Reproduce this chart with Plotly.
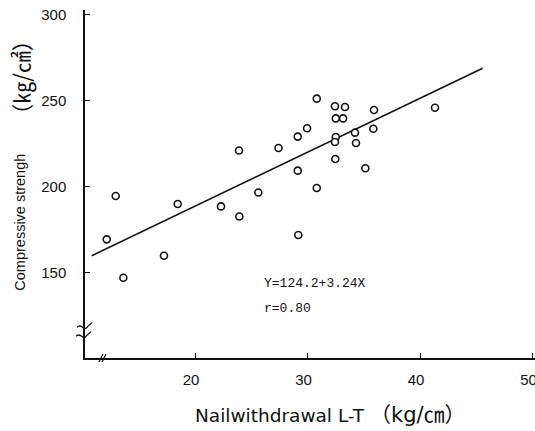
import plotly.graph_objects as go

# Data
nail_lt = [12.15, 12.95, 13.63, 17.24, 18.46, 22.31, 23.91, 23.94, 25.63, 27.42,
           29.13, 29.13, 29.18, 29.96, 30.82, 30.82, 32.44, 32.51, 33.16, 33.33,
           32.51, 32.44, 32.47, 34.22, 34.31, 35.14, 35.91, 35.85, 41.33]
comp_strength = [169.4, 194.6, 147.1, 159.9, 190.0, 188.6, 221.1, 182.7, 196.7, 222.6,
                 229.2, 209.4, 171.9, 234.1, 251.3, 199.3, 246.9, 239.8, 239.8, 246.4,
                 229.0, 226.1, 216.2, 231.5, 225.5, 210.8, 244.7, 233.8, 246.0]
fit_x = [10.82, 45.57]
fit_y = [159.9, 269.0]
x_ticks = [20, 30, 40, 50]
y_ticks = [150, 200, 250, 300]
eq_text = "Y=124.2+3.24X"
r_text = "r=0.80"
y_title = "Compressive strengh"
y_unit = "（㎏/㎠）"
x_title = "Nailwithdrawal L-T "
x_unit = "（kg/㎝）"

ink = "#111111"
fig = go.Figure()
fig.add_trace(go.Scatter(x=fit_x, y=fit_y, mode="lines",
                         line=dict(color=ink, width=1.6), hoverinfo="skip"))
fig.add_trace(go.Scatter(x=nail_lt, y=comp_strength, mode="markers",
                         marker=dict(symbol="circle", size=7, color="white",
                                     line=dict(color=ink, width=1.6))))

tickfont = dict(family="Liberation Sans", size=15, color=ink)
fig.update_xaxes(range=[10.22, 50.22], tickvals=x_ticks, ticks="inside", ticklen=5,
                 tickcolor=ink, showline=True, linecolor=ink, linewidth=1.5,
                 showgrid=False, zeroline=False, tickfont=tickfont,
                 ticklabelstandoff=7, ticklabelshift=-4,
                 ticklabeloverflow="allow", automargin=False)
fig.update_yaxes(range=[100.35, 302.9], tickvals=y_ticks, ticks="inside", ticklen=5,
                 tickcolor=ink, showline=True, linecolor=ink, linewidth=1.5,
                 showgrid=False, zeroline=False, tickfont=tickfont,
                 ticklabelstandoff=14, automargin=False)

# Axis break marks
fig.add_shape(type="path", xref="paper", yref="y", xsizemode="pixel", ysizemode="pixel",
              xanchor=0, yanchor=110,
              path="M -8,14 C -4,19 -1,10 2,14 C 4,17 6,17 7,19 M -9,5 C -5,10 -2,1 1,5 C 3,8 5,8 6,10",
              line=dict(color=ink, width=1.3))
fig.add_shape(type="path", xref="x", yref="paper", xsizemode="pixel", ysizemode="pixel",
              xanchor=11.82, yanchor=0,
              path="M -4,-4 L 0,4 M -1,-4 L 3,4",
              line=dict(color=ink, width=1.2))

eqfont = dict(family="Liberation Mono", size=13, color=ink)
fig.add_annotation(x=25.93, y=143.8, xref="x", yref="y", text=eq_text, showarrow=False,
                   xanchor="left", yanchor="middle", font=eqfont)
fig.add_annotation(x=25.93, y=129.3, xref="x", yref="y", text=r_text, showarrow=False,
                   xanchor="left", yanchor="middle", font=eqfont)

fig.add_annotation(x=-0.144, y=0.1868, xref="paper", yref="paper",
                   xanchor="center", yanchor="bottom",
                   text=y_title, textangle=-90, showarrow=False,
                   font=dict(family="Liberation Sans", size=14.5, color=ink))
fig.add_annotation(x=-0.144, y=0.951, xref="paper", yref="paper",
                   xanchor="center", yanchor="top",
                   text=y_unit, textangle=-90, showarrow=False,
                   font=dict(family="Noto Sans CJK JP", size=22, color=ink))
fig.add_annotation(x=0.24, y=-0.164, xref="paper", yref="paper",
                   xanchor="left", yanchor="middle",
                   text=x_title + "<span style='font-size:21px'>" + x_unit + "</span>",
                   showarrow=False,
                   font=dict(family="DejaVu Sans, Noto Sans CJK JP", size=18.5, color=ink))

fig.update_layout(width=535, height=431,
                  margin=dict(l=85, r=0, t=10, b=73, autoexpand=False),
                  plot_bgcolor="white", paper_bgcolor="white", showlegend=False)
fig.write_html("out.html")
